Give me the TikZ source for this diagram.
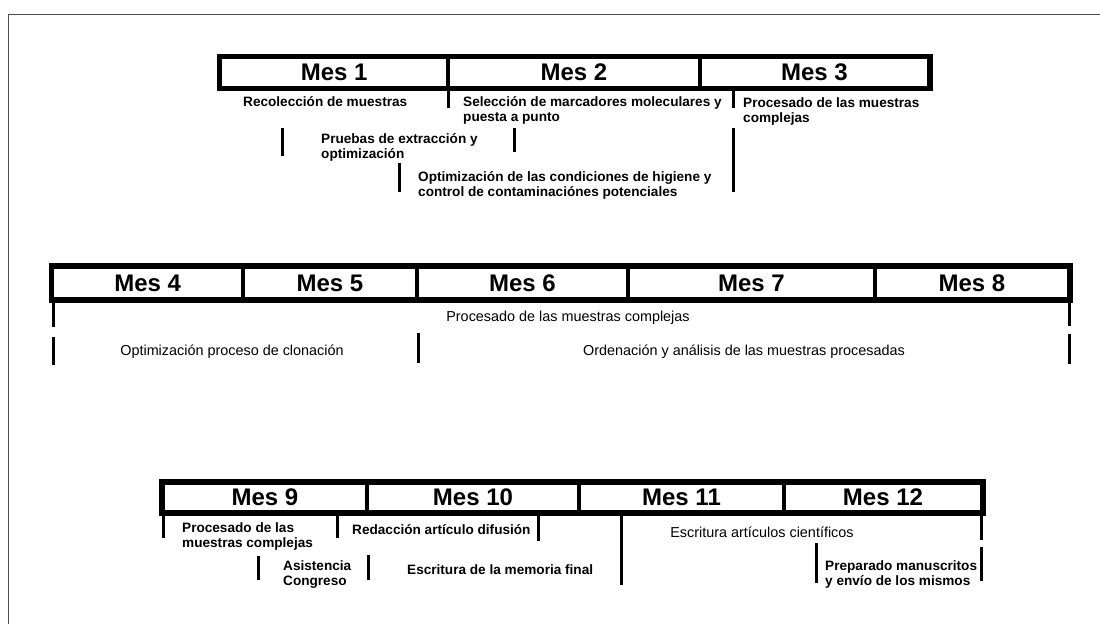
\documentclass[tikz,border=0pt]{standalone}
\usepackage{fontspec}
\setmainfont{Liberation Sans}
\newcommand\hdrfont{\fontsize{24}{24}\selectfont\bfseries}
\newcommand\lblfont{\fontsize{13.6}{15.5}\selectfont\bfseries}
\newcommand\regfont{\fontsize{14.4}{16}\selectfont}
\newcommand\twol[2]{\begin{tabular}[t]{@{}l@{}}#1\\#2\end{tabular}}
\tikzset{
  cell/.style={draw, line width=3.2pt, inner sep=0pt, font=\hdrfont},
  lbl/.style={inner sep=0pt, anchor=base west, font=\lblfont},
  lblc/.style={inner sep=0pt, anchor=base, font=\regfont},
  vtick/.style={line width=3pt},
  frame/.style={draw=black!70, line width=1pt},
  outer/.style={draw, line width=4pt}
}
\begin{document}
\begin{tikzpicture}[x=1pt,y=-1pt]
\useasboundingbox (0,0) rectangle (1100,624);
\draw[frame] (8,624) -- (8,14) -- (1100,14);

% Row 1
\node[cell, minimum width=227.5pt, minimum height=30pt] (m1) at (334.25,72.5) {Mes 1};
\node[cell, minimum width=252pt, minimum height=30pt] (m2) at (574,72.5) {Mes 2};
\node[cell, minimum width=229pt, minimum height=30pt] (m3) at (814.5,72.5) {Mes 3};
\draw[outer] (m1.north west) rectangle (m3.south east);

\node[lbl] (r1a) at (243,106) {Recolección de muestras};
\node[lbl] (r1b) at (463,106) {\twol{Selección de marcadores moleculares y}{puesta a punto}};
\node[lbl] (r1c) at (743,107) {\twol{Procesado de las muestras}{complejas}};
\node[lbl] (r1d) at (321,143) {\twol{Pruebas de extracción y}{optimización}};
\node[lbl] (r1e) at (418,181) {\twol{Optimización de las condiciones de higiene y}{control de contaminaciónes potenciales}};

\draw[vtick] (448,88) -- (448,108);
\draw[vtick] (733,90) -- (733,108);
\draw[vtick] (282,128) -- (282,156);
\draw[vtick] (514,128) -- (514,152);
\draw[vtick] (399,163) -- (399,192);
\draw[vtick] (733,128) -- (733,192);

% Row 2
\node[cell, minimum width=190.5pt, minimum height=32pt] (m4) at (147.75,283) {Mes 4};
\node[cell, minimum width=174pt, minimum height=32pt] (m5) at (330,283) {Mes 5};
\node[cell, minimum width=211pt, minimum height=32pt] (m6) at (522.5,283) {Mes 6};
\node[cell, minimum width=247pt, minimum height=32pt] (m7) at (751.5,283) {Mes 7};
\node[cell, minimum width=194pt, minimum height=32pt] (m8) at (972,283) {Mes 8};
\draw[outer] (m4.north west) rectangle (m8.south east);

\node[lblc] (r2a) at (568,321) {Procesado de las muestras complejas};
\node[lblc] (r2b) at (232,355) {Optimización proceso de clonación};
\node[lblc] (r2c) at (744,355) {Ordenación y análisis de las muestras procesadas};

\draw[vtick] (53,299) -- (53,327);
\draw[vtick] (1069,299) -- (1069,326);
\draw[vtick] (53,337) -- (53,365);
\draw[vtick] (418,333) -- (418,363);
\draw[vtick] (1069,334) -- (1069,364);

% Row 3
\node[cell, minimum width=204pt, minimum height=29pt] (m9) at (265,497.5) {Mes 9};
\node[cell, minimum width=212pt, minimum height=29pt] (m10) at (473,497.5) {Mes 10};
\node[cell, minimum width=205pt, minimum height=29pt] (m11) at (681.5,497.5) {Mes 11};
\node[cell, minimum width=198pt, minimum height=29pt] (m12) at (883,497.5) {Mes 12};
\draw[outer] (m9.north west) rectangle (m12.south east);

\node[lbl] (r3a) at (182,532) {\twol{Procesado de las}{muestras complejas}};
\node[lbl] (r3b) at (352,534) {Redacción artículo difusión};
\node[lbl] (r3c) at (283,570) {\twol{Asistencia}{Congreso}};
\node[lbl] (r3d) at (407,574) {Escritura de la memoria final};
\node[lblc] (r3e) at (762,537) {Escritura artículos científicos};
\node[lbl] (r3f) at (825,570) {\twol{Preparado manuscritos}{y envío de los mismos}};

\draw[vtick] (163,512) -- (163,538);
\draw[vtick] (337,515) -- (337,538);
\draw[vtick] (538,515) -- (538,541);
\draw[vtick] (258,556) -- (258,580);
\draw[vtick] (368,555) -- (368,580);
\draw[vtick] (621,515) -- (621,585);
\draw[vtick] (816,543) -- (816,583);
\draw[vtick] (981,512) -- (981,540);
\draw[vtick] (981,547) -- (981,581);
\end{tikzpicture}
\end{document}
